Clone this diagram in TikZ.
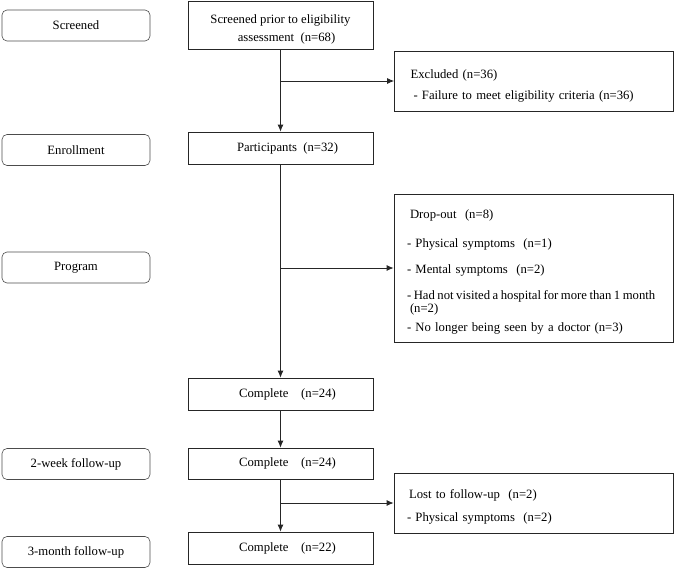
\documentclass[tikz,border=0pt]{standalone}
\usepackage{fontspec}
\setmainfont{Liberation Serif}
\usetikzlibrary{arrows.meta}

\newcommand{\lowtop}[1]{\rule{0pt}{#1}}

\begin{document}
\begin{tikzpicture}[x=1pt, y=-1pt,
  every node/.style={font=\fontsize{12.7}{13}\selectfont, inner sep=0pt},
  stage/.style={draw=black!70, line width=0.6pt, rounded corners=5pt, minimum width=148pt, minimum height=31pt},
  mainbox/.style={draw=black!85, line width=0.8pt, minimum width=185pt, align=center},
  sidebox/.style={draw=black!85, line width=0.8pt, text width=275pt, inner xsep=2pt, align=left},
  flow/.style={draw=black!85, line width=0.8pt, -{Latex[length=7pt,width=6pt]}}]
\useasboundingbox (0,0) rectangle (675,568);

% stages on the left
\node[stage] (Screened) at (76,25.5) {Screened};
\node[stage] (Enroll) at (76,150) {Enrollment};
\node[stage] (Program) at (76,267.5) {Program};
\node[stage] (Week2) at (76,464) {2-week follow-up};
\node[stage] (Month3) at (76,552) {3-month follow-up};

% main flow
\node[mainbox, minimum height=48pt] (Screen) at (280.5,25) {\lowtop{18pt}Screened prior to eligibility\\[5pt]\hspace{12pt}assessment~~(n=68)};
\node[mainbox, minimum height=32pt] (Part) at (280.5,148) {\hspace{14pt}Participants~~(n=32)};
\node[mainbox, minimum height=32pt] (Comp1) at (280.5,394) {\hspace{14pt}Complete~~~~(n=24)};
\node[mainbox, minimum height=31pt] (Comp2) at (280.5,463.5) {\hspace{14pt}Complete~~~~(n=24)};
\node[mainbox, minimum height=32pt] (Comp3) at (280.5,548) {\hspace{14pt}Complete~~~~(n=22)};

% side boxes
\node[sidebox, minimum height=60pt] (Excl) at (534,81) {\lowtop{18pt}\hspace{14pt}Excluded~(n=36)\\[8pt]\hspace{17pt}- Failure to meet eligibility criteria (n=36)};
\node[sidebox, minimum height=148pt] (Drop) at (533.5,268) {\lowtop{17pt}\hspace{14pt}Drop-out~~(n=8)\\[16pt]\hspace{11pt}- Physical symptoms~~(n=1)\\[13pt]\hspace{11pt}- Mental symptoms~~(n=2)\\[13pt]\hspace{11pt}\mbox{\spaceskip=0.2em - Had not visited a hospital for more than 1 month}\\\hspace{14pt}(n=2)\\[6pt]\hspace{11pt}- No longer being seen by a doctor (n=3)};
\node[sidebox, minimum height=60pt] (Lost) at (533.5,503) {\lowtop{16pt}\hspace{13pt}Lost to follow-up~~(n=2)\\[10pt]\hspace{11pt}- Physical symptoms~~(n=2)};

% connectors
\draw[flow] (Screen.south) -- (Part.north);
\draw[flow] (Screen.south |- Excl.west) -- (Excl.west);
\draw[flow] (Part.south) -- (Comp1.north);
\draw[flow] (Part.south |- Drop.west) -- (Drop.west);
\draw[flow] (Comp1.south) -- (Comp2.north);
\draw[flow] (Comp2.south) -- (Comp3.north);
\draw[flow] (Comp2.south |- Lost.west) -- (Lost.west);
\end{tikzpicture}
\end{document}
